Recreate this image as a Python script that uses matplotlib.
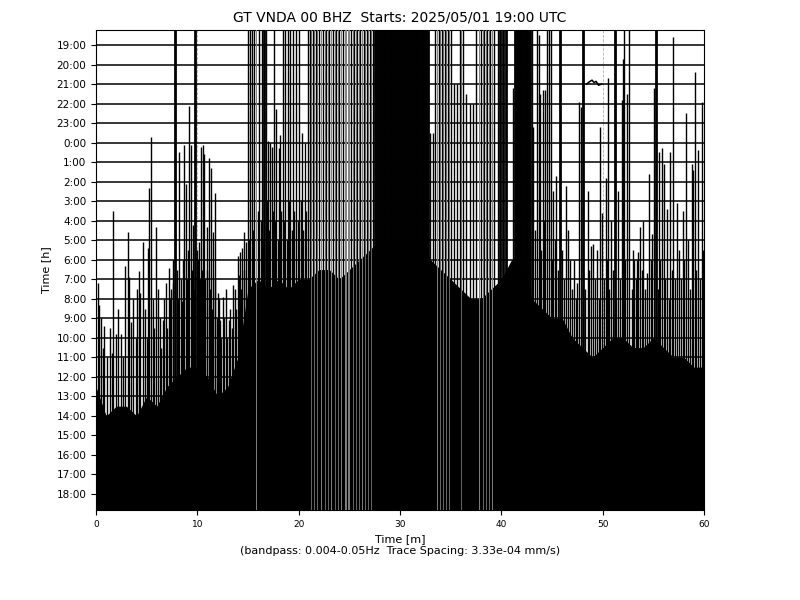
import matplotlib
matplotlib.use("Agg")
import matplotlib.pyplot as plt

# ---- data (minutes within the hour, rows in trace-spacing units) ----
hour_labels = ["19:00", "20:00", "21:00", "22:00", "23:00", "0:00", "1:00", "2:00",
               "3:00", "4:00", "5:00", "6:00", "7:00", "8:00", "9:00", "10:00",
               "11:00", "12:00", "13:00", "14:00", "15:00", "16:00", "17:00", "18:00"]

# oscillations that run through the whole plot height
full_minutes = [14.96, 15.2, 15.4, 15.62, 16.1, 16.35, 16.75, 17.6, 18.42, 18.65, 18.92,
                19.18, 19.4, 19.74, 20.07, 20.9, 21.1, 21.4, 21.7, 22.0, 22.4, 22.7, 23.0,
                23.4, 23.7, 24.0, 24.4, 25.2, 25.5, 25.8, 26.1, 26.4, 26.7, 27.0, 27.3,
                33.5, 33.8, 34.1, 34.4, 34.7, 35.0, 35.9, 36.2, 37.5, 38.0, 38.3, 38.6,
                38.9, 39.3, 39.7, 43.0, 43.5, 44.5, 44.7, 44.9, 52.1, 52.6]
thick_full_minutes = [7.83, 9.77, 16.55, 39.9, 40.2, 40.5, 45.8, 48.1, 51.2, 55.3]
gray_full_minutes = [15.8, 20.95, 21.25, 21.55, 21.85, 22.2, 22.55, 22.85, 23.2, 23.55,
                     23.85, 24.2, 24.55, 24.7, 24.85, 25.0, 25.35, 25.65, 25.95, 26.25,
                     26.55, 26.85, 27.15, 33.65, 33.95, 34.25, 34.55, 34.85, 36.05, 37.75,
                     38.15, 38.45, 38.75, 39.1]
solid_minutes = [27.5, 27.65, 27.8, 27.95, 28.1, 28.25, 28.4, 28.55, 28.7, 28.85, 29.0,
                 29.15, 29.3, 29.45, 29.6, 29.75, 29.9, 30.05, 30.2, 30.35, 30.5, 30.65,
                 30.8, 30.95, 31.1, 31.25, 31.4, 31.55, 31.7, 31.85, 32.0, 32.15, 32.3,
                 32.45, 32.6, 32.75, 41.35, 41.5, 41.65, 41.8, 41.95, 42.1, 42.25, 42.4,
                 42.55, 42.7, 42.85]

# oscillations whose upper swing ends inside the plot (minute, top row)
partial_minutes = [0.17, 0.33, 0.82, 1.71, 1.97, 2.89, 3.12, 3.29, 4.01, 4.21, 4.38, 4.61,
                   5.10, 5.26, 5.43, 5.92, 6.58, 6.91, 7.17, 7.40, 7.63, 8.22, 8.49, 8.72,
                   8.88, 9.21, 9.38, 9.54, 9.97, 10.2, 10.36, 10.53, 10.69, 10.92, 11.12,
                   11.35, 11.58, 11.77, 12.0, 12.24, 12.5, 12.83, 13.1, 13.5, 13.98, 14.2,
                   14.4, 14.57, 14.8, 16.95, 17.15, 17.35, 17.8, 18.03, 18.19, 20.3, 20.6,
                   33.0, 33.25, 35.3, 35.6, 36.5, 36.9, 37.2, 41.2, 43.13, 43.7, 43.82,
                   44.1, 44.3, 45.1, 45.4, 46.4, 46.6, 46.8, 47.5, 47.7, 47.9, 48.55, 48.85,
                   49.05, 49.45, 49.74, 49.94, 50.33, 50.53, 50.8, 51.5, 51.9, 52.0, 52.4,
                   53.1, 53.4, 53.5, 53.7, 54.0, 54.4, 54.6, 54.9, 55.1, 55.6, 55.85, 56.05,
                   56.35, 56.65, 56.95, 57.3, 57.9, 58.2, 58.4, 58.8, 58.9, 59.1, 59.4, 59.8]
partial_tops = [12.2, 13.3, 14.4, 8.5, 14.8, 11.3, 9.6, 11.9, 12.5, 11.6, 12.7, 10.1,
                10.4, 7.3, 4.7, 9.3, 14.1, 12.2, 11.4, 12.5, 11.0, 5.5, 13.1, 5.1,
                7.1, 3.1, 5.1, 9.2, 10.5, 10.1, 5.2, 5.1, 5.6, 9.3, 5.8,
                6.3, 9.6, 7.6, 12.7, 14.1, 12.9, 12.5, 14.1, 12.3, 10.8, 10.6,
                10.4, 9.6, 10.1, 4.9, 5.0, 5.2, 3.3, 5.3, 4.6, 4.5, 5.0,
                4.5, 4.5, 2.0, 2.0, 2.5, 3.0, 3.0, 2.2, 4.2, -0.5, 2.5,
                2.3, 2.3, 7.5, 6.7, 7.2, 9.5, 11.0, 12.2, 2.9, 3.2, 7.5, 10.3,
                10.2, 10.5, 4.2, 8.6, 6.8, 1.7, 9.0, 7.5, 2.8, 0.7, 2.5,
                11.0, 11.0, 10.6, 9.3, 9.0, 11.7, 6.6, 9.7, 2.2, 5.5, 5.3, 6.1,
                8.4, 5.5, -0.4, 8.1, 8.5, 3.5, 10.0, 6.1, 6.4, 1.4, 5.4, 2.9]

# smaller afternoon swings rising just above the dense mass (minute, top row)
low_minutes = [0.5, 0.7, 1.1, 1.35, 1.55, 2.2, 2.45, 2.7, 3.5, 3.7, 3.9, 4.8, 5.0, 5.6,
               5.75, 6.1, 6.3, 6.45, 6.75, 7.05, 7.3, 7.55, 8.0, 8.1, 8.35, 8.6, 9.0, 9.1,
               9.45, 9.65, 10.05, 10.3, 10.45, 10.6, 10.8, 11.0, 11.25, 11.45, 11.7, 11.9,
               12.1, 12.35, 12.65, 12.95, 13.25, 13.4, 13.7, 13.85, 14.1, 14.3, 14.65,
               15.1, 15.5, 16.0, 16.25, 16.45, 16.9, 17.1, 17.45, 17.7, 17.95, 18.3, 18.55,
               18.8, 19.05, 19.3, 19.55, 19.9, 20.2, 20.45, 20.75,
               43.3, 43.9, 44.2, 45.0, 45.25, 45.6, 46.0, 46.2, 47.0, 47.2, 47.35, 48.3,
               48.7, 49.2, 49.6, 50.1, 50.45, 50.65, 51.0, 51.35, 51.7, 52.25, 52.85, 53.0,
               53.25, 53.85, 54.2, 54.75, 55.5, 55.7, 56.2, 56.5, 56.8, 57.1, 57.5, 57.7,
               58.05, 58.6, 59.25, 59.6, 59.9]
low_tops = [14.0, 15.5, 16.0, 14.5, 15.8, 13.5, 14.8, 16.0, 14.2, 13.0, 15.0, 13.5, 15.0,
            13.0, 14.5, 12.5, 14.0, 15.5, 13.0, 14.5, 13.0, 12.2, 11.5, 13.0, 12.0, 11.0,
            12.0, 10.5, 11.5, 12.5, 11.0, 12.0, 11.5, 13.0, 12.0, 11.5, 12.5, 13.5, 12.0,
            14.0, 13.0, 15.0, 14.0, 15.0, 13.5, 14.5, 12.5, 13.5, 11.8, 12.5, 11.5,
            10.0, 9.5, 8.5, 9.0, 10.0, 8.0, 9.5, 8.5, 9.0, 10.0, 8.5, 9.0,
            10.0, 8.0, 9.5, 8.5, 9.0, 8.0, 9.5, 8.5,
            9.5, 10.5, 9.0, 11.0, 10.0, 11.5, 10.5, 12.0, 12.5, 11.0, 13.0, 12.5,
            11.5, 12.0, 13.0, 12.0, 11.0, 12.5, 11.5, 13.0, 12.0, 11.0, 12.5, 10.5,
            12.0, 11.5, 12.5, 11.0, 12.5, 11.0, 12.0, 13.0, 11.5, 12.0, 10.5, 12.0,
            11.0, 12.5, 11.5, 12.0, 10.5]

# upper edge of the dense black mass of the afternoon traces, minute by minute
mass_minutes = list(range(61))
mass_top = [17.5, 19.0, 18.5, 18.5, 19.0, 18.0, 18.5, 17.5, 17.0, 16.5, 16.5, 17.0, 18.0,
            17.5, 16.0, 12.5, 12.0, 12.5, 12.0, 12.5, 12.0, 12.0, 11.5, 11.5, 12.0, 11.5,
            11.0, 10.5, 10.0, 10.0, 10.0, 10.0, 10.0, 11.0, 11.5, 12.0, 12.5, 13.0, 13.0,
            12.5, 12.0, 11.0, 11.0, 13.0, 13.5, 14.0, 14.0, 15.0, 15.5, 16.0, 15.5, 15.0,
            15.0, 15.5, 15.5, 15.0, 15.5, 16.0, 16.0, 16.5, 16.5]

# small wave on the 21:00 trace
bump_minutes = [48.4, 48.7, 48.95, 49.15, 49.35, 49.6, 49.9]
bump_values = [0.0, 0.12, 0.2, 0.08, 0.14, -0.06, 0.0]

title = "GT VNDA 00 BHZ  Starts: 2025/05/01 19:00 UTC"
xlabel = "Time [m]\n(bandpass: 0.004-0.05Hz  Trace Spacing: 3.33e-04 mm/s)"

# ---- drawing ----
fig = plt.figure(figsize=(8, 6), dpi=100)
ax = fig.add_axes([0.12, 0.15, 0.76, 0.80])
n_rows = len(hour_labels)
ax.set_xlim(0, 60)
ax.set_ylim(n_rows - 0.18, -0.77)

ax.set_xticks([0, 10, 20, 30, 40, 50, 60])
ax.grid(axis="x", color="0.7", linestyle="--", linewidth=0.6, zorder=0)

for i in range(n_rows):
    ax.plot([0, 60], [i, i], color="black", linewidth=1.1, zorder=2)

ax.plot(bump_minutes, [2 - v for v in bump_values], color="black", linewidth=1.1, zorder=2)

ax.fill_between(mass_minutes, mass_top, n_rows + 2, color="black", linewidth=0, zorder=3)

bottom = n_rows + 2
ax.vlines(gray_full_minutes, -2, bottom, color="0.5", linewidth=0.7, zorder=3)
ax.vlines(full_minutes, -2, bottom, color="black", linewidth=1.0, zorder=3)
ax.vlines(thick_full_minutes, -2, bottom, color="black", linewidth=2.0, zorder=3)
ax.vlines(solid_minutes, -2, bottom, color="black", linewidth=2.0, zorder=3)
ax.vlines(partial_minutes, partial_tops, bottom, color="black", linewidth=1.0, zorder=3)
ax.vlines(low_minutes, low_tops, bottom, color="black", linewidth=1.0, zorder=3)

ax.set_yticks(range(n_rows))
ax.set_yticklabels(hour_labels, fontsize=7.5)
ax.tick_params(axis="x", labelsize=6.5)
ax.set_ylabel("Time [h]", fontsize=8)
ax.set_xlabel(xlabel, fontsize=8)
ax.set_title(title, fontsize=10)

fig.savefig("out.png", dpi=100)
